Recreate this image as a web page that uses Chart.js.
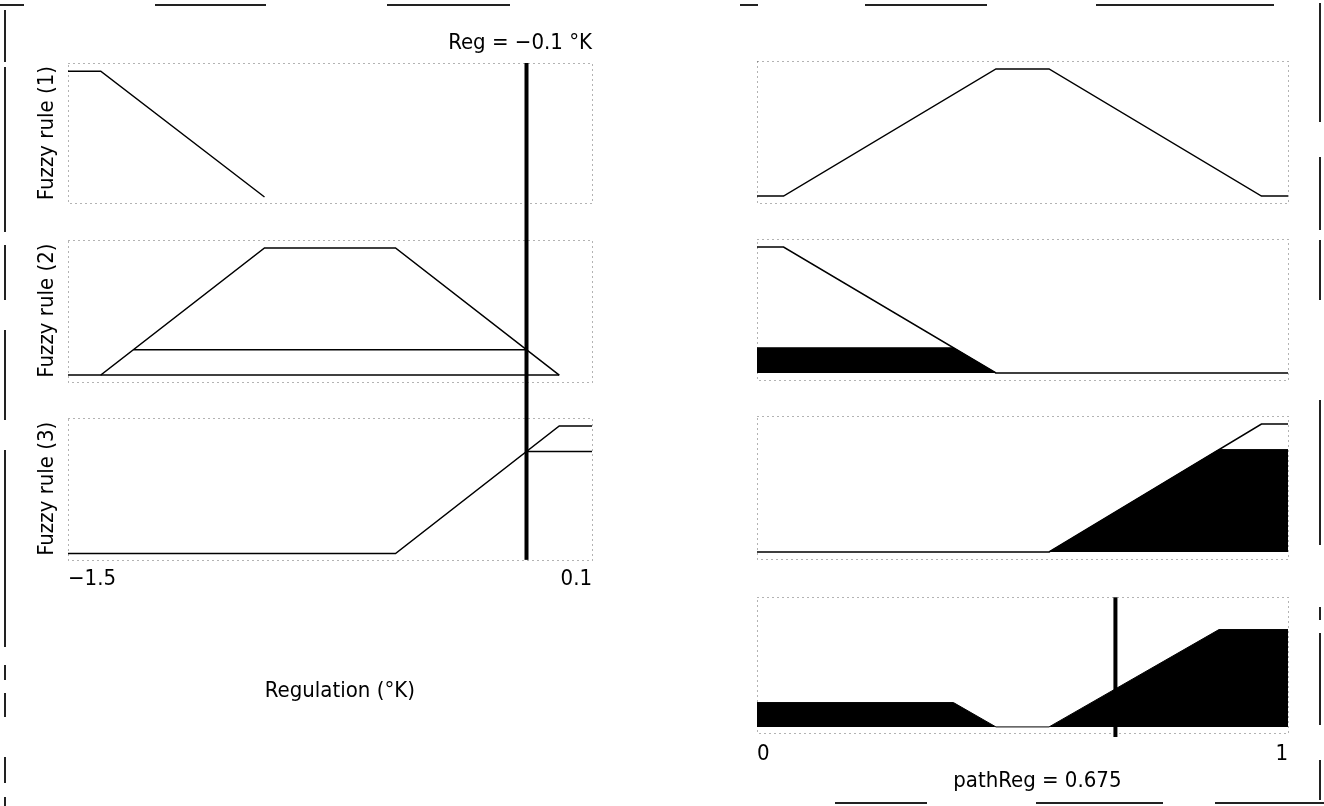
<!DOCTYPE html>
<html>
<head>
<meta charset="utf-8">
<script src="https://cdn.jsdelivr.net/npm/chart.js@4.4.1/dist/chart.umd.min.js"></script>
<style>
  body { margin: 0; background: #fff; width: 1324px; height: 806px; position: relative; overflow: hidden; }
  .box { position: absolute; }
  .seg { position: absolute; background: #222; }
</style>
</head>
<body>
<div class="box" style="left:0;top:20px;width:620px;height:202px"><canvas id="in1"></canvas></div>
<div class="box" style="left:0;top:222px;width:620px;height:178px"><canvas id="in2"></canvas></div>
<div class="box" style="left:0;top:400px;width:620px;height:406px"><canvas id="in3"></canvas></div>
<div class="box" style="left:700px;top:20px;width:624px;height:202px"><canvas id="out1"></canvas></div>
<div class="box" style="left:700px;top:222px;width:624px;height:178px"><canvas id="out2"></canvas></div>
<div class="box" style="left:700px;top:400px;width:624px;height:178px"><canvas id="out3"></canvas></div>
<div class="box" style="left:700px;top:578px;width:624px;height:228px"><canvas id="agg"></canvas></div>
<script>
// input / output values
const REG = -0.1;
const PATH_REG = 0.675;
const inRange = [-1.5, 0.1];
const outRange = [0, 1];

// membership functions of the regulation input
const in1X = [-1.5, -1.4, -0.9];
const in1Y = [1, 1, 0];
const in2X = [-1.5, -1.4, -0.9, -0.5, 0.0];
const in2Y = [0, 0, 1, 1, 0];
const in3X = [-1.5, -0.5, 0.0, 0.1];
const in3Y = [0, 0, 1, 1];

// firing degrees at Reg = -0.1
const fire2 = 0.2;
const fire3 = 0.8;
const cut2X = [-1.3, -0.1];
const cut3X = [-0.1, 0.1];
const base2X = [-1.4, 0.0];

// output membership functions (pathReg)
const out1X = [0, 0.05, 0.45, 0.55, 0.95, 1];
const out1Y = [0, 0, 1, 1, 0, 0];
const out2X = [0, 0.05, 0.45, 1];
const out2Y = [1, 1, 0, 0];
const out3X = [0, 0.55, 0.95, 1];
const out3Y = [0, 0, 1, 1];

// clipped outputs and their aggregate
const clip2X = [0, 0.37, 0.45];
const clip2Y = [0.2, 0.2, 0];
const clip3X = [0.55, 0.87, 1];
const clip3Y = [0, 0.8, 0.8];
const aggX = [0, 0.37, 0.45, 0.55, 0.87, 1];
const aggY = [0.2, 0.2, 0, 0, 0.8, 0.8];

// broken outer frame of the scan (decoration)
const frameTop = [[0, 24], [155, 266], [387, 510], [740, 758], [865, 987], [1096, 1274]];
const frameLeft = [[10, 62], [67, 232], [245, 300], [330, 420], [450, 647], [665, 680], [693, 717], [757, 783], [797, 806]];
const frameRight = [[3, 122], [157, 230], [240, 300], [400, 545], [607, 620], [633, 725], [760, 800]];
const frameBottom = [[835, 927], [1036, 1163], [1215, 1324]];

function addSeg(l, t, w, h) {
  const d = document.createElement('div');
  d.className = 'seg';
  d.style.cssText = `left:${l}px;top:${t}px;width:${w}px;height:${h}px`;
  document.body.appendChild(d);
}
frameTop.forEach(s => addSeg(s[0], 4, s[1] - s[0], 2));
frameLeft.forEach(s => addSeg(4, s[0], 2, s[1] - s[0]));
frameRight.forEach(s => addSeg(1319, s[0], 2, s[1] - s[0]));
frameBottom.forEach(s => addSeg(s[0], 802, s[1] - s[0], 2));

Chart.defaults.font.family = '"Liberation Sans Narrow", "DejaVu Sans Condensed", "Arial Narrow", sans-serif';
Chart.defaults.color = '#000';

const pts = (xs, ys) => xs.map((x, i) => ({ x, y: ys[i] }));
const line = (data, extra) => Object.assign({
  data, showLine: true, borderColor: '#000', borderWidth: 1.5, pointRadius: 0, fill: false
}, extra || {});
const solid = data => line(data, { fill: 'origin', backgroundColor: '#000', borderWidth: 1 });

// dotted box round every plot, like the scan
const frameDots = {
  id: 'frameDots',
  beforeDatasetsDraw(chart) {
    const { ctx, chartArea: a } = chart;
    ctx.save();
    ctx.strokeStyle = '#666';
    ctx.lineWidth = 1;
    ctx.setLineDash([1, 4]);
    ctx.strokeRect(Math.round(a.left) + 0.5, Math.round(a.top) + 0.5, Math.round(a.width), Math.round(a.height));
    ctx.restore();
  }
};

// thick vertical marker at a crisp value
const marker = {
  id: 'marker',
  afterDatasetsDraw(chart, args, opts) {
    if (opts.value == null) return;
    const { ctx, chartArea: a } = chart;
    const x = chart.scales.x.getPixelForValue(opts.value);
    const top = opts.fromEdge ? 0 : a.top;
    const bottom = opts.toEdge ? chart.height : a.bottom + (opts.extra || 0);
    ctx.save();
    ctx.fillStyle = '#000';
    ctx.fillRect(x - 2, top, 4, bottom - top);
    ctx.restore();
  }
};

const fnt = { size: 22, lineHeight: 1, weight: 'normal' };

function panel(id, datasets, o) {
  const showX = !!o.xTitle;
  return new Chart(document.getElementById(id), {
    type: 'scatter',
    data: { datasets },
    plugins: [frameDots, marker],
    options: {
      responsive: true,
      maintainAspectRatio: false,
      animation: false,
      layout: { padding: o.pad },
      plugins: {
        legend: { display: false },
        tooltip: { enabled: false },
        title: o.title || { display: false },
        marker: o.marker || {}
      },
      scales: {
        x: {
          type: 'linear', min: o.range[0], max: o.range[1],
          display: showX,
          grid: { display: false, drawTicks: false },
          border: { display: false },
          afterBuildTicks: ax => { ax.ticks = [{ value: ax.min }, { value: ax.max }]; },
          ticks: {
            font: fnt, padding: o.tickPad || 8, align: 'inner', maxRotation: 0,
            callback: v => (v < 0 ? '\u2212' + Math.abs(v) : String(v))
          },
          title: showX ? { display: true, text: o.xTitle, font: fnt, padding: { top: o.titlePad, bottom: 0 } } : { display: false }
        },
        y: {
          min: -0.05, max: 1.065,
          display: !!o.yTitle,
          grid: { display: false, drawTicks: false },
          border: { display: false },
          ticks: { display: false },
          title: o.yTitle ? { display: true, text: o.yTitle, font: fnt, padding: { top: 0, bottom: 10 } } : { display: false }
        }
      }
    }
  });
}

// left column: rule premises on Regulation
panel('in1', [line(pts(in1X, in1Y))], {
  range: inRange, yTitle: 'Fuzzy rule (1)',
  pad: { left: 36, right: 28, top: 0, bottom: 18.7 },
  title: { display: true, text: 'Reg = \u22120.1 \u00b0K', align: 'end', font: fnt, padding: { top: 12, bottom: 9 } },
  marker: { value: REG, toEdge: true }
});
panel('in2', [
  line(pts(in2X, in2Y)),
  line(pts(base2X, [0, 0])),
  line(pts(cut2X, [fire2, fire2]))
], {
  range: inRange, yTitle: 'Fuzzy rule (2)',
  pad: { left: 36, right: 28, top: 17.7, bottom: 18.6 },
  marker: { value: REG, fromEdge: true, toEdge: true }
});
panel('in3', [
  line(pts(in3X, in3Y)),
  line(pts(cut3X, [fire3, fire3]))
], {
  range: inRange, yTitle: 'Fuzzy rule (3)', xTitle: '\u2003Regulation (\u00b0K)',
  tickPad: 8.6, titlePad: 86,
  pad: { left: 36, right: 28, top: 17.7, bottom: 104 },
  marker: { value: REG, fromEdge: true }
});

// right column: consequents on pathReg
panel('out1', [line(pts(out1X, out1Y))], {
  range: outRange, pad: { left: 57, right: 36, top: 40.7, bottom: 19.6 }
});
panel('out2', [solid(pts(clip2X, clip2Y)), line(pts(out2X, out2Y))], {
  range: outRange, pad: { left: 57, right: 36, top: 16.8, bottom: 20.7 }
});
panel('out3', [solid(pts(clip3X, clip3Y)), line(pts(out3X, out3Y))], {
  range: outRange, pad: { left: 57, right: 36, top: 15.7, bottom: 19.6 }
});
panel('agg', [solid(pts(aggX, aggY))], {
  range: outRange, xTitle: '\u2003\u2002pathReg = 0.675',
  tickPad: 10, titlePad: -5,
  pad: { left: 57, right: 36, top: 19.3, bottom: 14 },
  marker: { value: PATH_REG, extra: 4 }
});
</script>
</body>
</html>
